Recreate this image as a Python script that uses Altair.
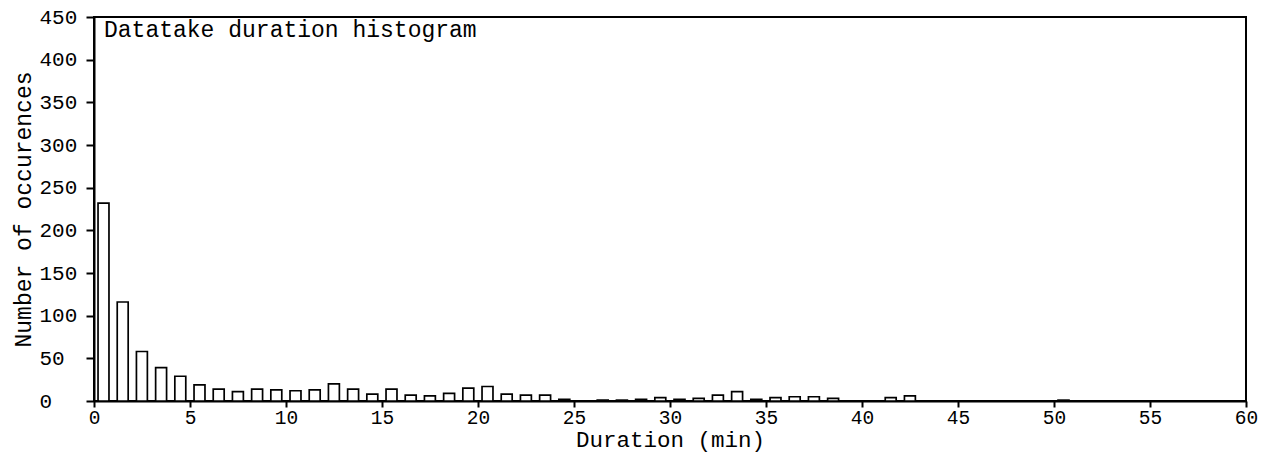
import altair as alt
import pandas as pd

# ---- data ----
bin_start = list(range(60))  # 1-minute bins: [k, k+1)
counts = [232, 116, 58, 39, 29, 19, 14, 11, 14, 13,
          12, 13, 20, 14, 8, 14, 7, 6, 9, 15,
          17, 8, 7, 7, 2, 0, 1, 1, 2, 4,
          2, 3, 7, 11, 2, 4, 5, 5, 3, 0,
          0, 4, 6, 0, 0, 0, 0, 0, 0, 0,
          1, 0, 0, 0, 0, 0, 0, 0, 0, 0]
x_ticks = list(range(0, 61, 5))
y_ticks = list(range(0, 451, 50))
plot_title = "Datatake duration histogram"
x_title = "Duration (min)"
y_title = "Number of occurences"

df = pd.DataFrame({"start": bin_start, "count": counts})
FONT = "Liberation Mono"

bars = alt.Chart(df).transform_calculate(
    x0="datum.start + 0.21", x1="datum.start + 0.78", base="0"
).mark_bar(fill="white", stroke="black", strokeWidth=1.7).encode(
    x=alt.X("x0:Q",
            scale=alt.Scale(domain=[0, 60], nice=False, zero=False),
            axis=alt.Axis(values=x_ticks, title=x_title, format="d",
                          tickSize=6, labelPadding=1, labelFlush=False,
                          labelBaseline="top", labelFontSize=19.5,
                          titleFontSize=22.5,
                          titleBaseline="alphabetic", titleY=45.5, titleX=576,
                          titleAlign="center")),
    x2="x1:Q",
    y=alt.Y("count:Q",
            scale=alt.Scale(domain=[0, 450], nice=False),
            axis=alt.Axis(values=y_ticks, title=y_title, format="d",
                          tickSize=8, labelAlign="left", labelPadding=47,
                          labelBaseline="middle", labelFlush=False,
                          titleAngle=270, titleX=-64, titleY=192,
                          titleBaseline="alphabetic", titleAlign="center")),
    y2="base:Q",
)

label = alt.Chart(pd.DataFrame({"t": [plot_title]})).mark_text(
    align="left", baseline="alphabetic", font=FONT, fontSize=23, color="black"
).encode(x=alt.value(10), y=alt.value(19.5), text="t:N")

chart = alt.layer(bars, label).properties(
    width=1152, height=384,
    autosize=alt.AutoSizeParams(type="none"),
    padding={"left": 86, "top": 9, "right": 20, "bottom": 56},
).configure_view(
    stroke="black", strokeWidth=2
).configure_axis(
    grid=False,
    domainColor="black", domainWidth=2,
    tickColor="black", tickWidth=2,
    labelFont=FONT, labelFontSize=21, labelColor="black",
    titleFont=FONT, titleFontSize=23, titleFontWeight="normal", titleColor="black",
    labelOverlap=False,
)

chart.save("out.html", embed_options={"renderer": "svg", "actions": False})
